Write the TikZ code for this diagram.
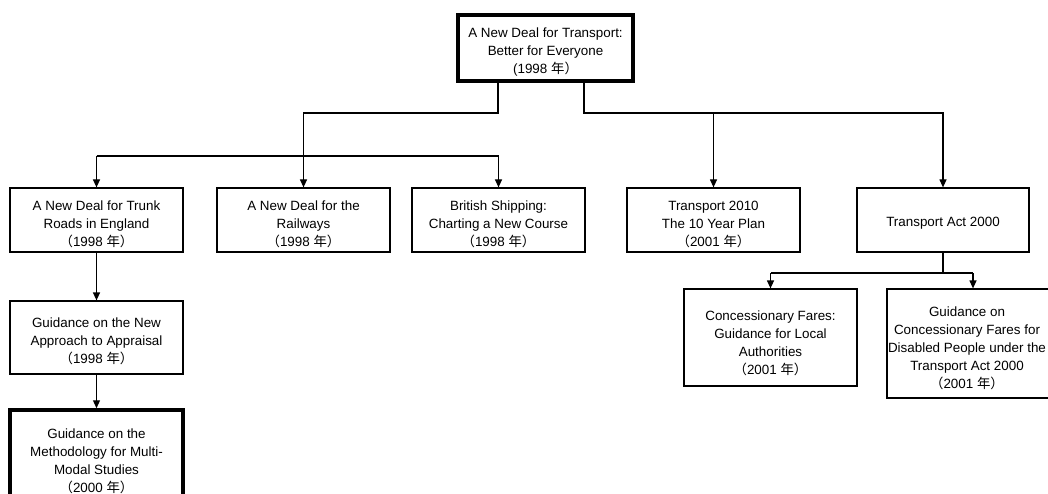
\documentclass[tikz,border=0pt]{standalone}
\usepackage{fontspec}
\setmainfont{Liberation Sans}
\newfontfamily\cjk{Noto Sans CJK SC}
\usetikzlibrary{arrows.meta}
% year line in CJK style: （1998 年）
\newcommand{\yr}[1]{{\cjk （}#1 {\cjk 年）}}
\begin{document}
\begin{tikzpicture}[x=1pt,y=-1pt,
  doc/.style={draw,line width=1.2pt,rectangle,inner sep=0pt,minimum width=173pt},
  keydoc/.style={doc,line width=3.5pt},
  txt/.style={align=center,inner sep=0pt,font=\fontsize{13.4}{18}\selectfont},
  link/.style={line width=1.2pt},
  arr/.style={link,-{Triangle[length=8pt,width=7pt]}}]
\useasboundingbox (0,0) rectangle (1048,494);
\clip (0,0) rectangle (1048,494);

% top level white paper
\node[keydoc,minimum width=175pt,minimum height=66pt,
  label={[txt,yshift=-4.5pt]center:{A New Deal for Transport:\\Better for Everyone\\(1998 {\cjk 年）}}}]
  (top) at (545.5,48) {};

% second level
\node[doc,minimum height=64pt,
  label={[txt,yshift=-4pt]center:{A New Deal for Trunk\\Roads in England\\\yr{1998}}}]
  (T1) at (96.5,220) {};
\node[doc,minimum height=64pt,
  label={[txt,yshift=-4pt]center:{A New Deal for the\\Railways\\\yr{1998}}}]
  (T2) at (303.5,220) {};
\node[doc,minimum height=64pt,
  label={[txt,yshift=-4pt]center:{British Shipping:\\Charting a New Course\\\yr{1998}}}]
  (T3) at (498.5,220) {};
\node[doc,minimum height=64pt,
  label={[txt,yshift=-4pt]center:{Transport 2010\\The 10 Year Plan\\\yr{2001}}}]
  (T4) at (713.5,220) {};
\node[doc,minimum height=64pt,minimum width=172pt,
  label={[txt,yshift=-3pt]center:{Transport Act 2000}}]
  (T5) at (943,220) {};

% roads branch
\node[doc,minimum height=73pt,
  label={[txt,yshift=-3.5pt]center:{Guidance on the New\\Approach to Appraisal\\\yr{1998}}}]
  (G1) at (96.5,337.5) {};
\node[keydoc,minimum height=98pt,
  label={[txt,yshift=-2pt]center:{Guidance on the\\Methodology for Multi-\\Modal Studies\\\yr{2000}}}]
  (G2) at (96.5,459) {};

% Transport Act branch
\node[doc,minimum height=97pt,
  label={[txt,yshift=-6pt]center:{Concessionary Fares:\\Guidance for Local\\Authorities\\\yr{2001}}}]
  (C1) at (770.5,337.5) {};
\node[doc,minimum height=109pt,minimum width=172pt,
  label={[txt,xshift=-6pt,yshift=-4.5pt]center:{Guidance on\\Concessionary Fares for\\Disabled People under the\\Transport Act 2000\\\yr{2001}}}]
  (C2) at (973,343.5) {};

% junction points
\coordinate (jl) at (498,113);
\coordinate (jr) at (584,113);
\coordinate (jm) at (303,156);
\coordinate (jb) at (943,273);

% connectors
\draw[arr] (top.south -| jl) |- (T2.north |- jl) -- (T2.north);
\draw[link] (T1.north |- jm) -- (T3.north |- jm);
\draw[arr] (T1.north |- jm) -- (T1.north);
\draw[arr] (T3.north |- jm) -- (T3.north);
\draw[arr] (top.south -| jr) |- (T5.north |- jr) -- (T5.north);
\draw[arr] (T4.north |- jr) -- (T4.north);
\draw[arr] (T1.south) -- (G1.north);
\draw[arr] (G1.south) -- (G2.north);
\draw[link] (T5.south) -- (jb);
\draw[link] (C1.north |- jb) -- (C2.north |- jb);
\draw[arr] (C1.north |- jb) -- (C1.north);
\draw[arr] (C2.north |- jb) -- (C2.north);
\end{tikzpicture}
\end{document}
